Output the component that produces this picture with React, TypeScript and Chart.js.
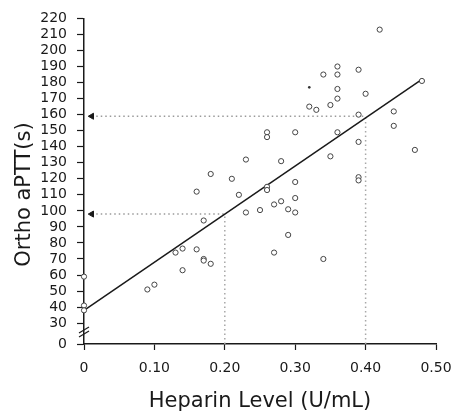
import React, { useEffect, useRef } from "react";
import { Chart, registerables } from "chart.js";

Chart.register(...registerables);

// Heparin level (U/mL) and Ortho aPTT (s) for each sample
const heparin = [
  0, 0, 0, 0.09, 0.1, 0.13, 0.14, 0.14, 0.16, 0.16, 0.17, 0.17, 0.17, 0.18, 0.18,
  0.21, 0.22, 0.23, 0.23, 0.25, 0.26, 0.26, 0.26, 0.26, 0.27, 0.27, 0.28, 0.28,
  0.29, 0.29, 0.3, 0.3, 0.3, 0.3, 0.32, 0.33, 0.34, 0.34, 0.35, 0.35, 0.36, 0.36,
  0.36, 0.36, 0.36, 0.39, 0.39, 0.39, 0.39, 0.39, 0.4, 0.42, 0.44, 0.44, 0.47, 0.48,
];
const aptt = [
  59, 41, 38, 51, 54, 74, 76.5, 63, 112, 76, 94, 70, 69, 123, 67,
  120, 110, 132, 99, 100.5, 149, 146, 115, 113, 104, 74, 131, 106,
  101, 85, 149, 118, 108, 99, 165, 163, 185, 70, 166, 134, 190, 185,
  176, 170, 149, 188, 160, 143, 121, 119, 173, 213, 162, 153, 138, 181,
];
// small filled dot
const dotX = [0.32];
const dotY = [177];
// regression line end points
const fitX = [0, 0.48];
const fitY = [38, 182];
// therapeutic range reference (heparin -> aPTT)
const refX = [0.2, 0.4];
const refY = [98, 159];
const arrowX = 0.011;
// axes
const yMin = 17;
const yTicks = [17, 30, 40, 50, 60, 70, 80, 90, 100, 110, 120, 130, 140, 150, 160, 170, 180, 190, 200, 210, 220];
const xTicks = [0, 0.1, 0.2, 0.3, 0.4, 0.5];
const breakValue = 24.5;

const INK = "#1a1a1a";
const FONT = "'DejaVu Sans', sans-serif";

export default function App() {
  const ref = useRef<HTMLCanvasElement | null>(null);

  useEffect(() => {
    const canvas = ref.current;
    if (!canvas) return;

    const refDatasets: any[] = [];
    refX.forEach((rx, i) => {
      refDatasets.push({
        data: [
          { x: arrowX, y: refY[i] },
          { x: rx, y: refY[i] },
        ],
        showLine: true,
        borderColor: "#9a9a9a",
        borderWidth: 1.5,
        borderDash: [1.5, 3],
        pointRadius: [3.5, 0],
        pointStyle: "triangle",
        rotation: -90,
        pointBackgroundColor: INK,
        pointBorderColor: INK,
        pointBorderWidth: 1,
        clip: false,
        order: 3,
      });
      refDatasets.push({
        data: [
          { x: rx, y: yMin },
          { x: rx, y: refY[i] },
        ],
        showLine: true,
        borderColor: "#a8a8a8",
        borderWidth: 1.5,
        borderDash: [1.5, 3],
        pointRadius: 0,
        clip: false,
        order: 3,
      });
    });

    const breakPlugin = {
      id: "axisBreak",
      afterDraw(chart: any) {
        const { ctx, scales } = chart;
        const x = scales.x.getPixelForValue(0);
        const y = scales.y.getPixelForValue(breakValue);
        ctx.save();
        ctx.strokeStyle = INK;
        ctx.lineWidth = 1.2;
        [-2, 2].forEach((d) => {
          ctx.beginPath();
          ctx.moveTo(x - 5, y + 3 + d);
          ctx.lineTo(x + 5, y - 3 + d);
          ctx.stroke();
        });
        ctx.restore();
      },
    };

    const chart = new Chart(canvas, {
      type: "scatter",
      data: {
        datasets: [
          {
            data: heparin.map((x, i) => ({ x, y: aptt[i] })),
            pointRadius: 2.6,
            pointBorderWidth: 1,
            pointBorderColor: "#444",
            pointBackgroundColor: "#fff",
            clip: false,
            order: 1,
          },
          {
            data: dotX.map((x, i) => ({ x, y: dotY[i] })),
            pointRadius: 1.3,
            pointBorderWidth: 0,
            pointBackgroundColor: "#333",
            clip: false,
            order: 1,
          },
          {
            data: fitX.map((x, i) => ({ x, y: fitY[i] })),
            showLine: true,
            borderColor: INK,
            borderWidth: 1.5,
            pointRadius: 0,
            clip: false,
            order: 2,
          },
          ...refDatasets,
        ],
      },
      options: {
        animation: false,
        responsive: false,
        events: [],
        layout: { padding: { top: 14, right: 28, left: 0, bottom: 0 } },
        plugins: { legend: { display: false }, tooltip: { enabled: false } },
        scales: {
          x: {
            type: "linear",
            min: 0,
            max: 0.5,
            afterBuildTicks: (s: any) => {
              s.ticks = xTicks.map((v) => ({ value: v }));
            },
            afterFit: (s: any) => {
              s.height = 68;
            },
            border: { display: true, color: INK, width: 1.5 },
            grid: {
              display: true,
              drawOnChartArea: false,
              drawTicks: true,
              tickLength: 6,
              tickWidth: 1.2,
              tickColor: INK,
            },
            ticks: {
              padding: 10,
              color: INK,
              font: { family: FONT, size: 14 },
              maxRotation: 0,
              callback: (v: any) => (Number(v) === 0 ? "0" : Number(v).toFixed(2)),
            },
            title: {
              display: true,
              text: "Heparin Level (U/mL)",
              color: INK,
              font: { family: FONT, size: 21, lineHeight: 1 },
              padding: { top: 0, bottom: 0 },
            },
          },
          y: {
            type: "linear",
            min: yMin,
            max: 220,
            afterBuildTicks: (s: any) => {
              s.ticks = yTicks.map((v) => ({ value: v }));
            },
            afterFit: (s: any) => {
              s.width = 84;
            },
            border: { display: true, color: INK, width: 1.5 },
            grid: {
              display: true,
              drawOnChartArea: false,
              drawTicks: true,
              tickLength: 7,
              tickWidth: 1.2,
              tickColor: INK,
            },
            ticks: {
              padding: 10,
              color: INK,
              font: { family: FONT, size: 14 },
              autoSkip: false,
              callback: (v: any) => (Number(v) < 30 ? "0" : String(v)),
            },
            title: {
              display: true,
              text: "Ortho aPTT(s)\u00A0\u00A0\u00A0\u00A0",
              color: INK,
              font: { family: FONT, size: 21, lineHeight: 1 },
              padding: { top: 14, bottom: 0 },
            },
          },
        },
      },
      plugins: [breakPlugin],
    } as any);

    return () => chart.destroy();
  }, []);

  return (
    <div style={{ position: "absolute", left: 0, top: 0, width: 464, height: 412, background: "#fff" }}>
      <canvas ref={ref} width={464} height={412} />
    </div>
  );
}
